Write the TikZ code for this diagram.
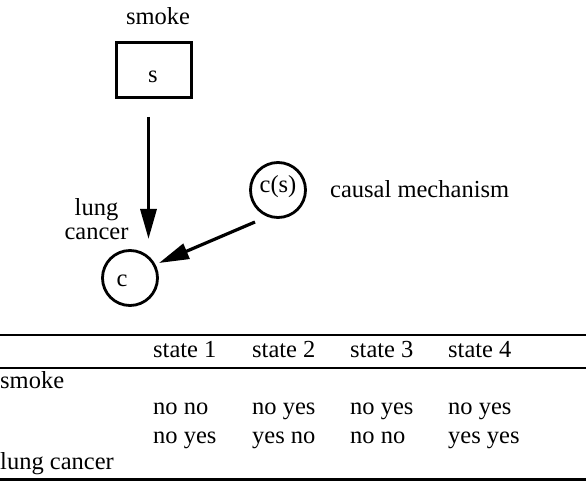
\documentclass[tikz,border=0pt]{standalone}
\usepackage{fontspec}
\setmainfont{Liberation Serif}
\usetikzlibrary{arrows.meta}
\begin{document}
\begin{tikzpicture}[x=1pt,y=-1pt,
  txt/.style={inner sep=0pt, font=\fontsize{24.5}{27}\selectfont},
  cell/.style={txt, anchor=base west},
  var/.style={draw, line width=2.8pt, circle, minimum size=55pt, inner sep=0pt},
  varbox/.style={draw, line width=3pt, minimum width=75pt, minimum height=55pt, inner sep=0pt},
  link/.style={line width=3.2pt, -{Triangle[length=30pt,width=16pt]}},
  rule/.style={line width=2.8pt}]
\useasboundingbox (0,0) rectangle (586,481);

% causal graph
\node[txt] (smokelbl) at (158,16) {smoke};
\node[varbox] (s) at (154,70.5) {};
\node[txt] (stxt) at (153,77) {s};
\node[var] (c) at (130,278) {};
\node[txt] (ctxt) at (122,281) {c};
\node[var] (cs) at (278,190) {};
\node[txt] (cstxt) at (278,187) {c(s)};
\node[txt, anchor=base west] (mech) at (330,198) {causal mechanism};
\node[txt, anchor=base] (lung) at (96.5,215) {lung};
\node[txt, anchor=base] (cancer) at (96.5,240) {cancer};

\coordinate (s-out) at (148.5,117);
\coordinate (c-in) at (148.5,239);
\coordinate (cs-out) at (255,222);
\coordinate (c-side) at (159,263);
\draw[link] (s-out) -- (c-in);
\draw[link] (cs-out) -- (c-side);

% table of states
\coordinate (rL1) at (0,335);   \coordinate (rR1) at (586,335);
\coordinate (rL2) at (0,368);   \coordinate (rR2) at (586,368);
\coordinate (rL3) at (0,479.5); \coordinate (rR3) at (586,479.5);
\draw[rule] (rL1) -- (rR1);
\draw[rule] (rL2) -- (rR2);
\draw[rule] (rL3) -- (rR3);

\node[cell] (h1) at (153,357) {state 1};
\node[cell] (h2) at (252,357) {state 2};
\node[cell] (h3) at (350,357) {state 3};
\node[cell] (h4) at (448,357) {state 4};

\node[cell] (rsmoke) at (0,388) {smoke};
\node[cell] (a1) at (153,414) {no no};
\node[cell] (a2) at (252,414) {no yes};
\node[cell] (a3) at (350,414) {no yes};
\node[cell] (a4) at (448,414) {no yes};
\node[cell] (b1) at (153,443) {no yes};
\node[cell] (b2) at (252,443) {yes no};
\node[cell] (b3) at (350,443) {no no};
\node[cell] (b4) at (448,443) {yes yes};
\node[cell] (rlung) at (0,469) {lung cancer};
\end{tikzpicture}
\end{document}
